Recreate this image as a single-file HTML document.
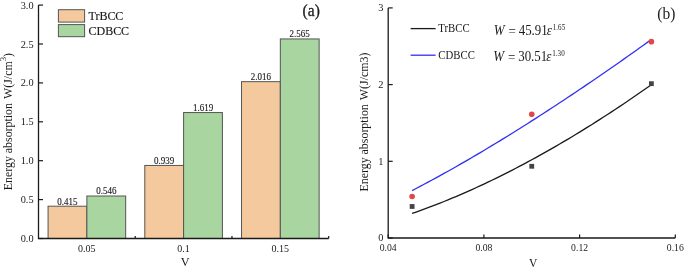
<!DOCTYPE html>
<html><head><meta charset="utf-8"><style>
html,body{margin:0;padding:0;background:#fff;}
svg{display:block;will-change:transform;}
text{font-family:"Liberation Serif", serif;fill:#1a1a1a;}
</style></head><body>
<svg width="685" height="269" viewBox="0 0 685 269">
<rect width="685" height="269" fill="#fff"/>
<rect x="48.07" y="206.21" width="38.80" height="32.29" fill="#F4C99D" stroke="#555" stroke-width="1"/>
<rect x="86.87" y="196.02" width="38.80" height="42.48" fill="#A8D5A0" stroke="#555" stroke-width="1"/>
<text transform="translate(67.47,204.61) scale(1,1.15)" font-size="9.0" stroke="#1a1a1a" stroke-width="0.12" text-anchor="middle">0.415</text>
<text transform="translate(106.27,194.42) scale(1,1.15)" font-size="9.0" stroke="#1a1a1a" stroke-width="0.12" text-anchor="middle">0.546</text>
<rect x="144.80" y="165.45" width="38.80" height="73.05" fill="#F4C99D" stroke="#555" stroke-width="1"/>
<rect x="183.60" y="112.54" width="38.80" height="125.96" fill="#A8D5A0" stroke="#555" stroke-width="1"/>
<text transform="translate(164.20,163.85) scale(1,1.15)" font-size="9.0" stroke="#1a1a1a" stroke-width="0.12" text-anchor="middle">0.939</text>
<text transform="translate(203.00,110.94) scale(1,1.15)" font-size="9.0" stroke="#1a1a1a" stroke-width="0.12" text-anchor="middle">1.619</text>
<rect x="241.53" y="81.66" width="38.80" height="156.84" fill="#F4C99D" stroke="#555" stroke-width="1"/>
<rect x="280.33" y="38.94" width="38.80" height="199.56" fill="#A8D5A0" stroke="#555" stroke-width="1"/>
<text transform="translate(260.93,80.06) scale(1,1.15)" font-size="9.0" stroke="#1a1a1a" stroke-width="0.12" text-anchor="middle">2.016</text>
<text transform="translate(299.73,37.34) scale(1,1.15)" font-size="9.0" stroke="#1a1a1a" stroke-width="0.12" text-anchor="middle">2.565</text>
<path d="M38.5,5.10 V238.5 H328.7" fill="none" stroke="#1a1a1a" stroke-width="1.3"/>
<line x1="38.5" y1="238.50" x2="43.0" y2="238.50" stroke="#1a1a1a" stroke-width="1.2"/>
<text x="33.6" y="242.00" font-size="10.3" text-anchor="end">0.0</text>
<line x1="38.5" y1="199.60" x2="43.0" y2="199.60" stroke="#1a1a1a" stroke-width="1.2"/>
<text x="33.6" y="203.10" font-size="10.3" text-anchor="end">0.5</text>
<line x1="38.5" y1="160.70" x2="43.0" y2="160.70" stroke="#1a1a1a" stroke-width="1.2"/>
<text x="33.6" y="164.20" font-size="10.3" text-anchor="end">1.0</text>
<line x1="38.5" y1="121.80" x2="43.0" y2="121.80" stroke="#1a1a1a" stroke-width="1.2"/>
<text x="33.6" y="125.30" font-size="10.3" text-anchor="end">1.5</text>
<line x1="38.5" y1="82.90" x2="43.0" y2="82.90" stroke="#1a1a1a" stroke-width="1.2"/>
<text x="33.6" y="86.40" font-size="10.3" text-anchor="end">2.0</text>
<line x1="38.5" y1="44.00" x2="43.0" y2="44.00" stroke="#1a1a1a" stroke-width="1.2"/>
<text x="33.6" y="47.50" font-size="10.3" text-anchor="end">2.5</text>
<line x1="38.5" y1="5.10" x2="43.0" y2="5.10" stroke="#1a1a1a" stroke-width="1.2"/>
<text x="33.6" y="8.60" font-size="10.3" text-anchor="end">3.0</text>
<line x1="135.23" y1="238.5" x2="135.23" y2="235.9" stroke="#1a1a1a" stroke-width="1.2"/>
<line x1="231.97" y1="238.5" x2="231.97" y2="235.9" stroke="#1a1a1a" stroke-width="1.2"/>
<line x1="328.70" y1="238.5" x2="328.70" y2="235.9" stroke="#1a1a1a" stroke-width="1.2"/>
<text x="86.87" y="251.6" font-size="10" text-anchor="middle">0.05</text>
<text x="183.60" y="251.6" font-size="10" text-anchor="middle">0.1</text>
<text x="280.33" y="251.6" font-size="10" text-anchor="middle">0.15</text>
<text x="185.1" y="266.1" font-size="12.2" text-anchor="middle">V</text>
<text transform="translate(12.0,190.3) rotate(-90)" font-size="11.9">Energy absorption <tspan dx="1.3">W(J/cm</tspan><tspan font-size="8.8" dy="-5.6">3</tspan><tspan dy="5.6">)</tspan></text>
<rect x="58.4" y="9.7" width="26.2" height="12.4" fill="#F4C99D" stroke="#555" stroke-width="1"/>
<rect x="58.4" y="24.6" width="26.2" height="12.1" fill="#A8D5A0" stroke="#555" stroke-width="1"/>
<text transform="translate(88.5,20.0) scale(1,1.07)" font-size="12" stroke="#1a1a1a" stroke-width="0.15">TrBCC</text>
<text transform="translate(88.5,34.6) scale(1,1.07)" font-size="12" stroke="#1a1a1a" stroke-width="0.15">CDBCC</text>
<text transform="translate(302.6,16.4) scale(1,1.05)" font-size="15.5" stroke="#1a1a1a" stroke-width="0.3">(a)</text>
<polyline points="412.12,213.48 416.11,212.08 420.10,210.66 424.09,209.20 428.07,207.72 432.06,206.21 436.05,204.66 440.04,203.10 444.02,201.50 448.01,199.87 452.00,198.22 455.99,196.54 459.98,194.84 463.96,193.10 467.95,191.34 471.94,189.56 475.93,187.75 479.91,185.91 483.90,184.05 487.89,182.16 491.88,180.25 495.86,178.31 499.85,176.35 503.84,174.36 507.83,172.35 511.81,170.31 515.80,168.25 519.79,166.17 523.77,164.06 527.76,161.92 531.75,159.77 535.74,157.59 539.72,155.39 543.71,153.16 547.70,150.91 551.69,148.64 555.67,146.34 559.66,144.02 563.65,141.68 567.64,139.32 571.62,136.94 575.61,134.53 579.60,132.10 583.59,129.65 587.58,127.17 591.56,124.68 595.55,122.16 599.54,119.62 603.52,117.06 607.51,114.48 611.50,111.88 615.49,109.25 619.47,106.61 623.46,103.94 627.45,101.25 631.44,98.55 635.42,95.82 639.41,93.07 643.40,90.30 647.39,87.51 651.38,84.69" fill="none" stroke="#1a1a1a" stroke-width="1.3"/>
<polyline points="412.12,190.57 416.11,188.49 420.10,186.40 424.09,184.29 428.07,182.15 432.06,180.00 436.05,177.83 440.04,175.64 444.02,173.43 448.01,171.21 452.00,168.97 455.99,166.71 459.98,164.43 463.96,162.14 467.95,159.83 471.94,157.51 475.93,155.17 479.91,152.82 483.90,150.45 487.89,148.06 491.88,145.67 495.86,143.25 499.85,140.83 503.84,138.38 507.83,135.93 511.81,133.46 515.80,130.98 519.79,128.48 523.77,125.97 527.76,123.45 531.75,120.92 535.74,118.37 539.72,115.81 543.71,113.24 547.70,110.65 551.69,108.05 555.67,105.45 559.66,102.83 563.65,100.19 567.64,97.55 571.62,94.89 575.61,92.23 579.60,89.55 583.59,86.86 587.58,84.16 591.56,81.45 595.55,78.72 599.54,75.99 603.52,73.25 607.51,70.49 611.50,67.73 615.49,64.95 619.47,62.17 623.46,59.37 627.45,56.56 631.44,53.75 635.42,50.92 639.41,48.09 643.40,45.24 647.39,42.38 651.38,39.52" fill="none" stroke="#3030f2" stroke-width="1.3"/>
<rect x="409.73" y="204.07" width="4.8" height="4.8" fill="#444"/>
<rect x="529.35" y="163.88" width="4.8" height="4.8" fill="#444"/>
<rect x="648.98" y="81.27" width="4.8" height="4.8" fill="#444"/>
<circle cx="412.12" cy="196.52" r="2.8" fill="#e04848"/>
<circle cx="531.75" cy="114.22" r="2.8" fill="#e04848"/>
<circle cx="651.38" cy="41.66" r="2.8" fill="#e04848"/>
<path d="M388.2,7.90 V238.0 H675.30" fill="none" stroke="#1a1a1a" stroke-width="1.3"/>
<line x1="388.2" y1="238.00" x2="392.7" y2="238.00" stroke="#1a1a1a" stroke-width="1.2"/>
<text x="383.5" y="241.40" font-size="10.4" text-anchor="end">0</text>
<line x1="388.2" y1="161.30" x2="392.7" y2="161.30" stroke="#1a1a1a" stroke-width="1.2"/>
<text x="383.5" y="164.70" font-size="10.4" text-anchor="end">1</text>
<line x1="388.2" y1="84.60" x2="392.7" y2="84.60" stroke="#1a1a1a" stroke-width="1.2"/>
<text x="383.5" y="88.00" font-size="10.4" text-anchor="end">2</text>
<line x1="388.2" y1="7.90" x2="392.7" y2="7.90" stroke="#1a1a1a" stroke-width="1.2"/>
<text x="383.5" y="11.30" font-size="10.4" text-anchor="end">3</text>
<line x1="388.20" y1="238.0" x2="388.20" y2="234.4" stroke="#1a1a1a" stroke-width="1.2"/>
<text x="388.20" y="250.6" font-size="9.7" text-anchor="middle">0.04</text>
<line x1="483.90" y1="238.0" x2="483.90" y2="234.4" stroke="#1a1a1a" stroke-width="1.2"/>
<text x="483.90" y="250.6" font-size="9.7" text-anchor="middle">0.08</text>
<line x1="579.60" y1="238.0" x2="579.60" y2="234.4" stroke="#1a1a1a" stroke-width="1.2"/>
<text x="579.60" y="250.6" font-size="9.7" text-anchor="middle">0.12</text>
<line x1="675.30" y1="238.0" x2="675.30" y2="234.4" stroke="#1a1a1a" stroke-width="1.2"/>
<text x="675.30" y="250.6" font-size="9.7" text-anchor="middle">0.16</text>
<text x="533.2" y="267" font-size="11.5" text-anchor="middle">V</text>
<text transform="translate(368.3,191.5) rotate(-90)" font-size="11.9">Energy absorption <tspan dx="1.3">W(J/cm3)</tspan></text>
<line x1="410.6" y1="28.6" x2="435.6" y2="28.6" stroke="#1a1a1a" stroke-width="1.3"/>
<line x1="410.6" y1="55.2" x2="435.6" y2="55.2" stroke="#3030f2" stroke-width="1.3"/>
<text transform="translate(438.3,32.1) scale(1,1.06)" font-size="10.8">TrBCC</text>
<text transform="translate(438.3,58.7) scale(1,1.06)" font-size="10.8">CDBCC</text>
<g transform="translate(494.40,34.60) scale(1,1.1)"><text x="-0.6" y="0" font-size="13" font-style="italic">W</text><text x="14.2" y="1.0" font-size="13">=</text><text x="24.3" y="0" font-size="12.9">45.91</text><text x="52.4" y="0" font-size="13" font-style="italic">ε</text><text x="58.4" y="-4.6" font-size="7.1">1.65</text></g>
<g transform="translate(493.90,60.60) scale(1,1.1)"><text x="-0.6" y="0" font-size="13" font-style="italic">W</text><text x="14.2" y="1.0" font-size="13">=</text><text x="24.3" y="0" font-size="12.9">30.51</text><text x="52.4" y="0" font-size="13" font-style="italic">ε</text><text x="58.4" y="-4.6" font-size="7.1">1.30</text></g>
<text transform="translate(657.3,19.4) scale(1,1.02)" font-size="15.5">(b)</text>
</svg></body></html>
